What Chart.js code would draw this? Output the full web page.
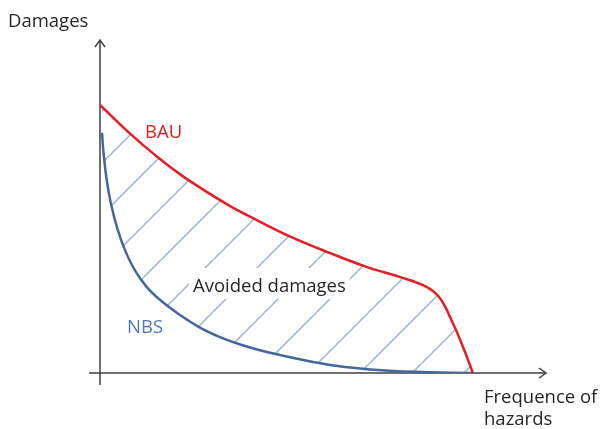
<!DOCTYPE html>
<html>
<head>
<meta charset="utf-8">
<script src="https://cdn.jsdelivr.net/npm/chart.js@4"></script>
<style>
  body { margin: 0; background: #fff; }
  #wrap { width: 601px; height: 429px; }
</style>
</head>
<body>
<div id="wrap"><canvas id="chart" width="601" height="429"></canvas></div>
<script>
  // x = frequence of hazards, y = damages (arbitrary units 0-100)
  var bauX = [0, 6.3, 12.3, 19.1, 28.7, 34.3, 41.9, 51.6, 59.9, 67.3, 73.3, 76.2, 79.1, 81.4, 83.6];
  var bauY = [80.5, 72.4, 65.5, 58.6, 50.5, 46.5, 41.4, 36.0, 31.8, 28.8, 25.8, 22.5, 15.0, 7.8, 0];
  var nbsX = [0.45, 0.8, 1.5, 2.5, 4.0, 5.6, 7.8, 10.5, 13.5, 17.3, 22.2, 26.9, 31.8, 37.4, 47.8, 54.9, 65.7, 83.6];
  var nbsY = [72.1, 66.1, 58.0, 50.5, 42.9, 36.9, 30.9, 25.8, 21.9, 18.0, 13.8, 10.8, 8.4, 6.3, 3.3, 1.8, 0.6, 0];

  var labels = {
    yTitle: "Damages",
    xTitle: ["Frequence of", "hazards"],
    bau: "BAU",
    nbs: "NBS",
    area: "Avoided damages"
  };

  function toPoints(xs, ys) {
    var pts = [];
    for (var i = 0; i < xs.length; i++) {
      pts.push({ x: xs[i], y: ys[i] });
    }
    return pts;
  }

  // diagonal hatch pattern for the area between the curves
  function makeHatch() {
    var size = 52;
    var c = document.createElement("canvas");
    c.width = size;
    c.height = size;
    var g = c.getContext("2d");
    g.strokeStyle = "#9bb1cf";
    g.lineWidth = 1.4;
    for (var k = 0; k <= 2; k++) {
      g.beginPath();
      g.moveTo(0, k * size);
      g.lineTo(k * size, 0);
      g.stroke();
    }
    var pat = g.createPattern(c, "repeat");
    pat.setTransform(new DOMMatrix([1, 0, 0, 1, 5, 0]));
    return pat;
  }

  var FONT = "'Open Sans', sans-serif";

  var decorations = {
    id: "decorations",
    beforeDatasetsDraw: function(chart) {
      var ctx = chart.ctx;
      var sx = chart.scales.x, sy = chart.scales.y;
      var x0 = sx.getPixelForValue(0), xEnd = sx.getPixelForValue(100);
      var y0 = sy.getPixelForValue(0), yEnd = sy.getPixelForValue(100);
      ctx.save();
      ctx.strokeStyle = "#404040";
      ctx.lineWidth = 1.5;
      ctx.beginPath();
      // y axis, a little below the x axis
      ctx.moveTo(x0, y0 + 12);
      ctx.lineTo(x0, yEnd);
      // x axis, a little left of the y axis
      ctx.moveTo(x0 - 11, y0);
      ctx.lineTo(xEnd, y0);
      ctx.stroke();
      // arrow heads
      ctx.beginPath();
      ctx.moveTo(x0 - 5, yEnd + 7);
      ctx.lineTo(x0, yEnd);
      ctx.lineTo(x0 + 5, yEnd + 7);
      ctx.moveTo(xEnd - 7, y0 - 5);
      ctx.lineTo(xEnd, y0);
      ctx.lineTo(xEnd - 7, y0 + 5);
      ctx.stroke();
      ctx.restore();
    },
    afterDatasetsDraw: function(chart) {
      var ctx = chart.ctx;
      ctx.save();
      ctx.textBaseline = "alphabetic";
      ctx.textAlign = "left";
      ctx.font = "18.5px " + FONT;

      ctx.fillStyle = "#262626";
      ctx.fillText(labels.yTitle, 8, 27);
      ctx.fillText(labels.xTitle[0], 484, 403);
      ctx.fillText(labels.xTitle[1], 484, 425);

      // label in the hatched area, on a white box
      var w = ctx.measureText(labels.area).width;
      ctx.fillStyle = "#fff";
      ctx.fillRect(189, 268, w + 8, 31);
      ctx.fillStyle = "#262626";
      ctx.fillText(labels.area, 193, 292);

      ctx.fillStyle = "#e0201c";
      ctx.fillText(labels.bau, 145, 138);
      ctx.fillStyle = "#5079bd";
      ctx.fillText(labels.nbs, 127, 333);
      ctx.restore();
    }
  };

  var ctx = document.getElementById("chart").getContext("2d");
  var chart = new Chart(ctx, {
    type: "line",
    data: {
      datasets: [{
        label: "BAU",
        data: toPoints(bauX, bauY),
        borderColor: "#e31e24",
        borderWidth: 2.5,
        pointRadius: 0,
        tension: 0.4,
        fill: false
      }, {
        label: "NBS",
        data: toPoints(nbsX, nbsY),
        borderColor: "#44679b",
        borderWidth: 2.5,
        pointRadius: 0,
        tension: 0.4,
        backgroundColor: makeHatch(),
        fill: "-1"
      }]
    },
    options: {
      responsive: false,
      animation: false,
      layout: { padding: { left: 100, right: 55, top: 40, bottom: 56 } },
      plugins: {
        legend: { display: false },
        tooltip: { enabled: false }
      },
      scales: {
        x: { type: "linear", min: 0, max: 100, display: false },
        y: { type: "linear", min: 0, max: 100, display: false }
      }
    },
    plugins: [decorations]
  });
</script>
</body>
</html>
